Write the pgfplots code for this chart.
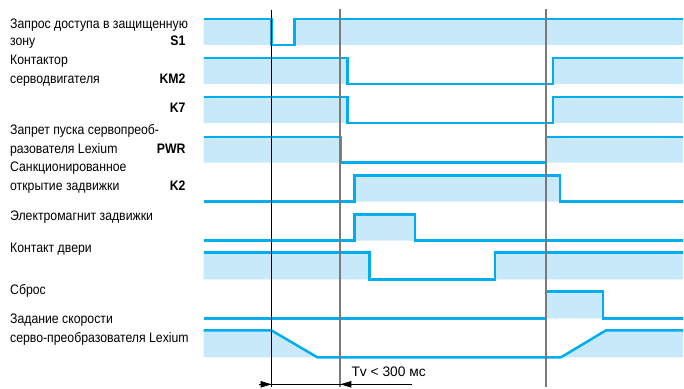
\documentclass[border=0pt]{standalone}
\usepackage{pgfplots}
\pgfplotsset{compat=1.18}
\usepackage{fontspec}
\setmainfont{Liberation Sans}[FakeStretch=0.89]
\newfontfamily\widefont{Liberation Sans}
\usetikzlibrary{arrows.meta}
\definecolor{sig}{HTML}{00AEEF}
\definecolor{band}{HTML}{C8E9F9}
\definecolor{vgray}{HTML}{7A7A7A}
\newcommand\lf{\fontsize{13.8bp}{16bp}\selectfont}
\begin{document}
\begin{tikzpicture}
\begin{axis}[scale only axis, width=684bp, height=388bp,
  xmin=0, xmax=684, ymin=0, ymax=388, y dir=reverse,
  hide axis, clip=false]
\path (axis cs:0,0) rectangle (axis cs:684,388);
% ---- bands (area between signal and its low level)
\addplot[fill=band, draw=none] coordinates {(204,19)(272,19)(272,45)(295,45)(295,19)(684,19)(684,45)(204,45)};
\addplot[fill=band, draw=none] coordinates {(204,58)(348,58)(348,84)(554,84)(554,58)(684,58)(684,84)(204,84)};
\addplot[fill=band, draw=none] coordinates {(204,97)(348,97)(348,123)(554,123)(554,97)(684,97)(684,123)(204,123)};
\addplot[fill=band, draw=none] coordinates {(204,137)(341,137)(341,163)(547,163)(547,137)(684,137)(684,163)(204,163)};
\addplot[fill=band, draw=none] coordinates {(204,202)(355,202)(355,176)(561,176)(561,202)(684,202)};
\addplot[fill=band, draw=none] coordinates {(204,241)(355,241)(355,215)(416,215)(416,241)(684,241)};
\addplot[fill=band, draw=none] coordinates {(204,253)(370,253)(370,280)(496,280)(496,253)(684,253)(684,280)(204,280)};
\addplot[fill=band, draw=none] coordinates {(204,319)(547,319)(547,292)(604,292)(604,319)(684,319)};
\addplot[fill=band, draw=none] coordinates {(204,331)(272,331)(318,358)(562,358)(607,331)(684,331)(684,358)(204,358)};
% ---- signals
\addplot[sig, line width=2.5bp] coordinates {(204,19)(272,19)(272,45)(295,45)(295,19)(684,19)};
\addplot[sig, line width=2.5bp] coordinates {(204,58)(348,58)(348,84)(554,84)(554,58)(684,58)};
\addplot[sig, line width=2.5bp] coordinates {(204,97)(348,97)(348,123)(554,123)(554,97)(684,97)};
\addplot[sig, line width=2.5bp] coordinates {(204,137)(341,137)(341,163)(547,163)(547,137)(684,137)};
\addplot[sig, line width=2.5bp] coordinates {(204,202)(355,202)(355,176)(561,176)(561,202)(684,202)};
\addplot[sig, line width=2.5bp] coordinates {(204,241)(355,241)(355,215)(416,215)(416,241)(684,241)};
\addplot[sig, line width=2.5bp] coordinates {(204,253)(370,253)(370,280)(496,280)(496,253)(684,253)};
\addplot[sig, line width=2.5bp] coordinates {(204,319)(547,319)(547,292)(604,292)(604,319)(684,319)};
\addplot[sig, line width=2.5bp] coordinates {(204,331)(272,331)(318,358)(562,358)(607,331)(684,331)};
% ---- vertical markers
\addplot[black, line width=1bp] coordinates {(272,10)(272,388)};
\addplot[vgray, line width=1.8bp] coordinates {(341,9)(341,388)};
\addplot[vgray, line width=1.8bp] coordinates {(547,9)(547,388)};
% ---- dimension arrow
\draw[line width=0.8bp] (axis cs:261,385) -- (axis cs:413,385);
\draw[line width=0.8bp, -{Triangle[length=11bp,width=6.5bp]}] (axis cs:259,385) -- (axis cs:272,385);
\draw[line width=0.8bp, -{Triangle[length=11bp,width=6.5bp]}] (axis cs:360,385) -- (axis cs:341,385);
\node[anchor=base west, inner sep=0pt, font=\widefont\lf] at (axis cs:352,377) {Tv < 300 мс};
% ---- labels
\begin{scope}[every node/.style={inner sep=0pt, font=\lf}]
\node[anchor=base west] at (axis cs:10,29) {Запрос доступа в защищенную};
\node[anchor=base west] at (axis cs:10,46) {зону};
\node[anchor=base east, font=\lf\bfseries] at (axis cs:186,46) {S1};
\node[anchor=base west] at (axis cs:10,65) {Контактор};
\node[anchor=base west] at (axis cs:10,84) {серводвигателя};
\node[anchor=base east, font=\lf\bfseries] at (axis cs:186,84) {KM2};
\node[anchor=base east, font=\lf\bfseries] at (axis cs:186,113) {K7};
\node[anchor=base west] at (axis cs:10,135) {Запрет пуска сервопреоб-};
\node[anchor=base west] at (axis cs:10,154) {разователя Lexium};
\node[anchor=base east, font=\lf\bfseries] at (axis cs:186,154) {PWR};
\node[anchor=base west] at (axis cs:10,172) {Санкционированное};
\node[anchor=base west] at (axis cs:10,191) {открытие задвижки};
\node[anchor=base east, font=\lf\bfseries] at (axis cs:186,191) {K2};
\node[anchor=base west] at (axis cs:10,221) {Электромагнит задвижки};
\node[anchor=base west] at (axis cs:10,253) {Контакт двери};
\node[anchor=base west] at (axis cs:10,295) {Сброс};
\node[anchor=base west] at (axis cs:10,324) {Задание скорости};
\node[anchor=base west] at (axis cs:10,343) {серво-преобразователя Lexium};
\end{scope}
\end{axis}
\end{tikzpicture}
\end{document}
